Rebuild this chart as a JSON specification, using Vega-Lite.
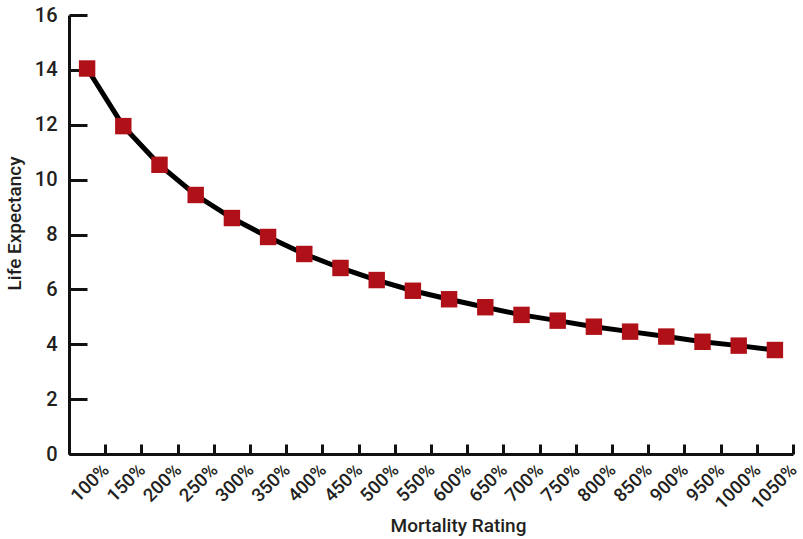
{
  "$schema": "https://vega.github.io/schema/vega-lite/v6.json",
  "autosize": "none",
  "width": 724,
  "height": 439,
  "padding": {"left": 69, "top": 15, "right": 10, "bottom": 85},
  "background": "white",
  "config": {
    "view": {"stroke": null},
    "font": "Roboto",
    "axis": {"grid": false, "domainColor": "#111", "tickColor": "#111", "labelColor": "#231f20", "titleColor": "#231f20", "labelFont": "Roboto", "titleFont": "Roboto"}
  },
  "data": {"values": [
    {"rating": "100%", "le": 14.05},
    {"rating": "150%", "le": 11.95},
    {"rating": "200%", "le": 10.54},
    {"rating": "250%", "le": 9.44},
    {"rating": "300%", "le": 8.6},
    {"rating": "350%", "le": 7.91},
    {"rating": "400%", "le": 7.29},
    {"rating": "450%", "le": 6.78},
    {"rating": "500%", "le": 6.34},
    {"rating": "550%", "le": 5.95},
    {"rating": "600%", "le": 5.64},
    {"rating": "650%", "le": 5.35},
    {"rating": "700%", "le": 5.07},
    {"rating": "750%", "le": 4.86},
    {"rating": "800%", "le": 4.64},
    {"rating": "850%", "le": 4.46},
    {"rating": "900%", "le": 4.28},
    {"rating": "950%", "le": 4.09},
    {"rating": "1000%", "le": 3.95},
    {"rating": "1050%", "le": 3.79}
  ]},
  "encoding": {
    "x": {"field": "rating", "type": "ordinal", "sort": null,
      "scale": {"paddingInner": 0, "paddingOuter": 0},
      "axis": {"title": "Mortality Rating", "labelAngle": -45, "labelFontSize": 18.5, "labelFontWeight": 500, "titleFontSize": 19, "titleFontWeight": 500, "tickBand": "extent", "tickSize": -10, "tickWidth": 3, "domainWidth": 3, "labelPadding": 16, "labelOffset": 12, "titleX": 389, "titleY": 62, "titleBaseline": "top", "titleAlign": "center"}},
    "y": {"field": "le", "type": "quantitative",
      "scale": {"domain": [0, 16]},
      "axis": {"title": "Life Expectancy", "values": [0, 2, 4, 6, 8, 10, 12, 14, 16], "labelFontSize": 20, "labelFontWeight": 500, "titleFontSize": 19, "titleFontWeight": 500, "tickSize": -18, "tickWidth": 3, "domainWidth": 3, "labelPadding": 30, "titlePadding": 10, "titleY": 208}}
  },
  "layer": [
    {"mark": {"type": "line", "color": "#000", "strokeWidth": 5}},
    {"mark": {"type": "square", "color": "#b01118", "opacity": 1, "size": 270}}
  ]
}
